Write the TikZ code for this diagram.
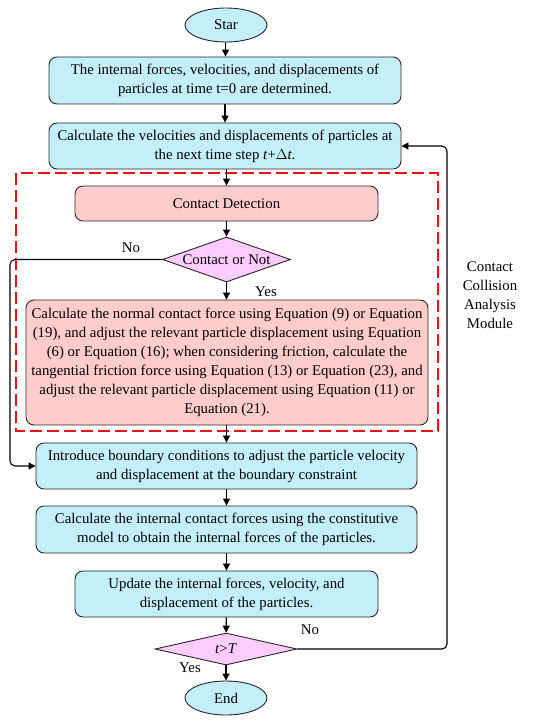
\documentclass[tikz,border=0pt]{standalone}
\usepackage{fontspec}
\setmainfont{Liberation Serif}
\usetikzlibrary{shapes.geometric,arrows.meta}
\definecolor{bfill}{HTML}{C5EEFB}
\definecolor{pfill}{HTML}{FFCCCC}
\definecolor{vfill}{HTML}{FFCCFF}
\definecolor{dred}{HTML}{F01010}
\begin{document}
\begin{tikzpicture}[x=1pt,y=-1pt,
  every node/.style={font=\fontsize{14.8}{19}\selectfont},
  bbox/.style={draw=black!85,line width=0.9pt,rounded corners=8pt,fill=bfill,align=center,inner sep=0pt},
  pbox/.style={bbox,fill=pfill},
  term/.style={draw=black!85,line width=0.9pt,ellipse,fill=bfill,inner sep=0pt,minimum width=82pt,minimum height=34pt},
  dec/.style={draw=black!85,line width=0.9pt,diamond,fill=vfill,inner sep=0pt},
  arr/.style={line width=1.1pt,-{Triangle[length=7pt,width=7pt]}},
  lbl/.style={inner sep=0pt}]
\useasboundingbox (0,0) rectangle (550,723);
\node[term] (star) at (226,25) {Star};
\node[bbox,minimum width=352pt,minimum height=47pt] (b1) at (225,80.5) {The internal forces, velocities, and displacements of\\ particles at time t=0 are determined.};
\node[bbox,minimum width=352pt,minimum height=46pt] (b2) at (225,146) {Calculate the velocities and displacements of particles at\\ the next time step \textit{t}+$\Delta$\textit{t}.};
\node[pbox,minimum width=303pt,minimum height=35pt] (cd) at (226.5,203.5) {Contact Detection};
\node[dec,minimum width=128pt,minimum height=45pt,aspect=2.84] (d1) at (226.5,259.5) {Contact or Not};
\node[pbox,minimum width=402pt,minimum height=125pt] (big) at (227,362.5) {Calculate the normal contact force using Equation (9) or Equation\\ (19), and adjust the relevant particle displacement using Equation\\ (6) or Equation (16); when considering friction, calculate the\\ tangential friction force using Equation (13) or Equation (23), and\\ adjust the relevant particle displacement using Equation (11) or\\ Equation (21).};
\node[bbox,minimum width=381pt,minimum height=46pt] (bc) at (226.5,466) {Introduce boundary conditions to adjust the particle velocity\\ and displacement at the boundary constraint};
\node[bbox,minimum width=381pt,minimum height=47pt] (ic) at (226.5,529.5) {Calculate the internal contact forces using the constitutive\\ model to obtain the internal forces of the particles.};
\node[bbox,minimum width=303pt,minimum height=46pt] (up) at (226.5,594) {Update the internal forces, velocity, and\\ displacement of the particles.};
\node[dec,minimum width=142pt,minimum height=32pt,aspect=4.4] (d2) at (226,649) {\textit{t}>\textit{T}};
\node[term] (end) at (226,698) {End};
\draw[dred,line width=1.4pt,dash pattern=on 12pt off 5pt] (16,173) rectangle (438,431);
\draw[arr] (star) -- (b1);
\draw[arr] (b1) -- (b2);
\draw[arr] (b2.south -| cd) -- (cd);
\draw[arr] (cd) -- (d1);
\draw[arr] (d1) -- (d1 |- big.north);
\draw[arr] (big.south -| bc) -- (bc);
\draw[arr] (bc) -- (ic);
\draw[arr] (ic.south -| up) -- (up);
\draw[arr] (up) -- (d2);
\draw[arr] (d2) -- (end);
\coordinate (lx) at (10,0);
\coordinate (rx) at (447,0);
\draw[arr,rounded corners=5pt] (d1.west) -- (d1.west -| lx) -- (bc.west -| lx) -- (bc.west);
\draw[arr,rounded corners=5pt] (d2.east) -- (d2.east -| rx) -- (b2.east -| rx) -- (b2.east);
\node[lbl] (no1) at (131,248) {No};
\node[lbl] (yes1) at (266,292) {Yes};
\node[lbl] (no2) at (310,630) {No};
\node[lbl] (yes2) at (190,668) {Yes};
\node[lbl,align=center] (mod) at (490,295) {Contact\\ Collision\\ Analysis\\ Module};
\end{tikzpicture}
\end{document}
